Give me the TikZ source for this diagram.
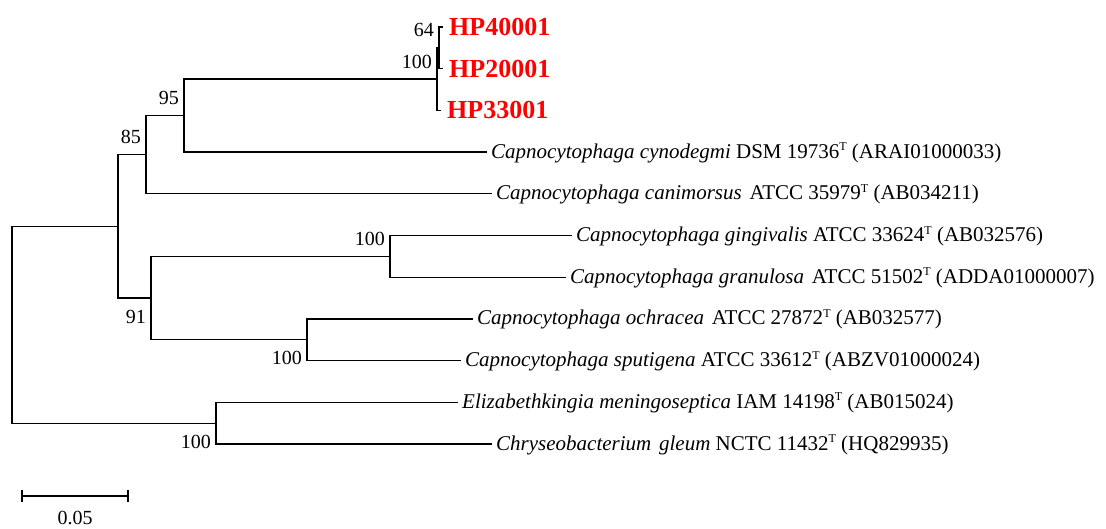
\documentclass[tikz,border=0pt]{standalone}
\usepackage{fontspec}
\setmainfont{Liberation Serif}
\newcommand\supT{{\fontsize{12}{12}\selectfont\raisebox{7.5pt}{T}}}
\newcommand\wsp{\ \hspace{2.5pt}}
\begin{document}
\begin{tikzpicture}[x=1pt,y=-1pt,
  br/.style={line width=1.3pt},
  leaf/.style={anchor=west, inner xsep=4pt, inner ysep=0pt, text height=12pt, text depth=0pt, font=\fontsize{21}{24}\selectfont},
  hp/.style={anchor=west, inner xsep=6pt, inner ysep=0pt, text height=17pt, text depth=0pt, font=\fontsize{26}{30}\selectfont\bfseries, text=red},
  bsu/.style={anchor=base east, inner sep=0pt, xshift=-5pt, yshift=11pt, font=\fontsize{20}{24}\selectfont},
  bsl/.style={anchor=base east, inner sep=0pt, xshift=-5pt, yshift=-25pt, font=\fontsize{20}{24}\selectfont},
]
\useasboundingbox (0,0) rectangle (1106,528);
% internal nodes
\coordinate (n64) at (439,47.85);
\coordinate (n100a) at (437,79.1);
\coordinate (n95) at (184,115.6);
\coordinate (n85) at (146,154.7);
\coordinate (n100b) at (390,256.35);
\coordinate (n100c) at (307,339.75);
\coordinate (n91) at (151,298.05);
\coordinate (nA) at (118,226.4);
\coordinate (n100d) at (216,423.15);
\coordinate (root) at (12,324.8);
% leaves
\node[hp] (hp4) at (443,27) {HP40001};
\node[hp] (hp2) at (443,68.7) {HP20001};
\node[hp] (hp3) at (441,110.4) {HP33001};
\node[leaf] (cyn) at (487,152.1) {\textit{Capnocytophaga cynodegmi} DSM 19736\supT{} (ARAI01000033)};
\node[leaf] (can) at (492,193.8) {\textit{Capnocytophaga canimorsus}\wsp ATCC 35979\supT{} (AB034211)};
\node[leaf] (gin) at (572,235.5) {\textit{Capnocytophaga gingivalis} ATCC 33624\supT{} (AB032576)};
\node[leaf] (gra) at (566,277.2) {\textit{Capnocytophaga granulosa}\wsp ATCC 51502\supT{} (ADDA01000007)};
\node[leaf] (och) at (473,318.9) {\textit{Capnocytophaga ochracea}\wsp ATCC 27872\supT{} (AB032577)};
\node[leaf] (spu) at (461,360.6) {\textit{Capnocytophaga sputigena} ATCC 33612\supT{} (ABZV01000024)};
\node[leaf] (eli) at (458,402.3) {\textit{Elizabethkingia meningoseptica} IAM 14198\supT{} (AB015024)};
\node[leaf] (chr) at (492,444) {\textit{Chryseobacterium\wsp gleum} NCTC 11432\supT{} (HQ829935)};
% branches
\draw[br] (n64) |- (hp4.west);
\draw[br] (n64) |- (hp2.west);
\draw[br] (n100a) |- (n64);
\draw[br] (n100a) |- (hp3.west);
\draw[br] (n95) |- (n100a);
\draw[br] (n95) |- (cyn.west);
\draw[br] (n85) |- (n95);
\draw[br] (n85) |- (can.west);
\draw[br] (n100b) |- (gin.west);
\draw[br] (n100b) |- (gra.west);
\draw[br] (n100c) |- (och.west);
\draw[br] (n100c) |- (spu.west);
\draw[br] (n91) |- (n100b);
\draw[br] (n91) |- (n100c);
\draw[br] (nA) |- (n85);
\draw[br] (nA) |- (n91);
\draw[br] (n100d) |- (eli.west);
\draw[br] (n100d) |- (chr.west);
\draw[br] (root) |- (nA);
\draw[br] (root) |- (n100d);
% bootstrap values
\node[bsu] (b64) at (n64) {64};
\node[bsu] (b100a) at (n100a) {100};
\node[bsu] (b95) at (n95) {95};
\node[bsu] (b85) at (n85) {85};
\node[bsu] (b100b) at (n100b) {100};
\node[bsl] (b91) at (n91) {91};
\node[bsl] (b100c) at (n100c) {100};
\node[bsl] (b100d) at (n100d) {100};
% scale bar
\coordinate (sbL) at (22,496);
\coordinate (sbR) at (128,496);
\draw[br] (sbL) -- (sbR);
\draw[br] ([yshift=6pt]sbL) -- ([yshift=-6pt]sbL);
\draw[br] ([yshift=6pt]sbR) -- ([yshift=-6pt]sbR);
\node[font=\fontsize{20}{24}\selectfont, inner sep=0pt] (sbt) at (75,518) {0.05};
\end{tikzpicture}
\end{document}
